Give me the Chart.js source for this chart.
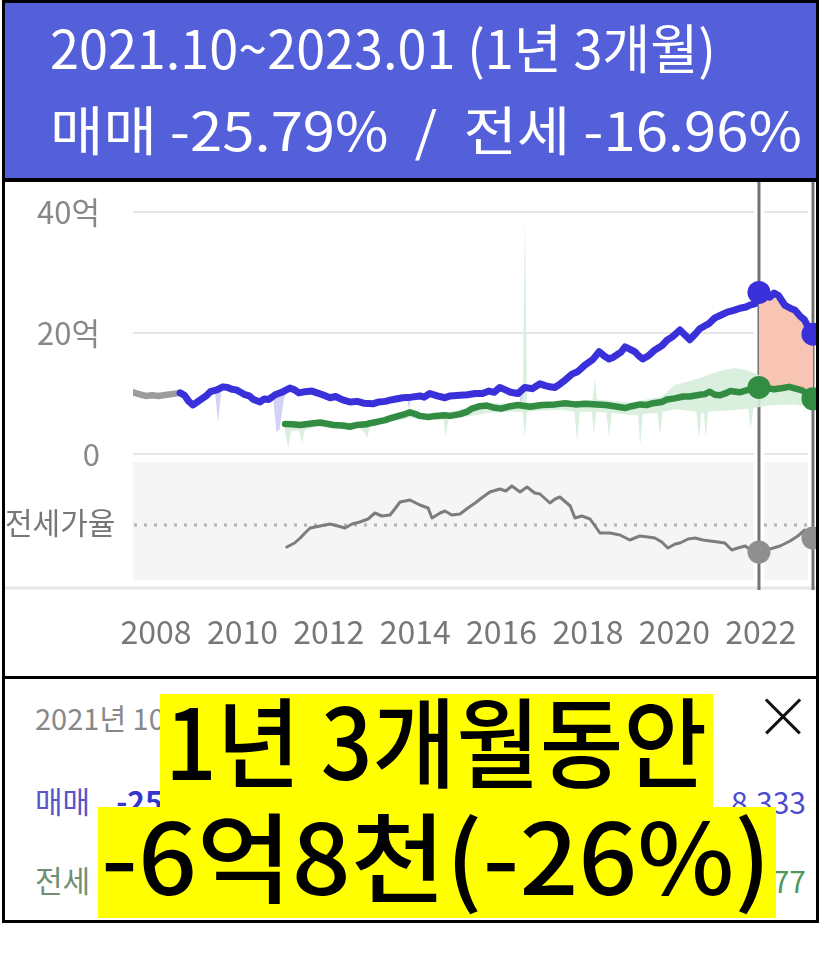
<!DOCTYPE html>
<html><head><meta charset="utf-8">
<script src="https://cdn.jsdelivr.net/npm/chart.js@4"></script>
<style>
html,body{margin:0;padding:0;background:#fff;width:827px;height:974px;overflow:hidden;font-family:"Noto Sans CJK KR","Noto Sans",sans-serif;}
.abs{position:absolute;}
#frame{left:2px;top:0;width:811px;height:917px;border:3px solid #000;}
#head{left:5px;top:3px;width:811px;height:175px;background:rgb(84,96,218);}
.div{left:2px;width:817px;background:#000;}
.hl{color:#fff;font-size:53px;line-height:1;white-space:nowrap;transform-origin:0 50%;display:inline-block;}
.fit{white-space:nowrap;display:inline-block;transform-origin:0 50%;line-height:1;}
#cv{left:5px;top:182px;}
.yb{background:#ffff00;}
.big{font-size:98px;font-weight:500;color:#000;}
</style></head><body>
<div id="frame" class="abs"></div>
<div id="head" class="abs"></div>
<div class="abs hl fit" id="h1" style="left:50px;top:20px;">2021.10~2023.01 (1년 3개월)</div>
<div class="abs hl fit" id="h2" style="left:50px;top:102px;">매매 -25.79% &nbsp;/&nbsp; 전세 -16.96%</div>
<div class="abs div" style="top:178px;height:4px;"></div>
<canvas id="cv" class="abs" width="811" height="494"></canvas>
<div class="abs fit" style="left:5px;top:506px;font-size:30px;color:#777;">전세가율</div>
<div class="abs div" style="top:676px;height:3px;"></div>

<div class="abs fit" style="left:35px;top:703px;font-size:29px;color:#888;">2021년 10월 ~ 2023년 01월</div>
<div class="abs fit" style="left:35px;top:785px;font-size:30px;color:#5656c8;">매매<span style="margin-left:26px;color:#3535d0;font-weight:700;">-25.79%</span></div>
<div class="abs fit" id="r1" style="top:786px;font-size:30px;color:#4b4bd0;">19억<span style="margin-left:22px;">8,333</span></div>
<div class="abs fit" style="left:35px;top:864px;font-size:30px;color:#6f8f73;">전세<span style="margin-left:26px;color:#4a9a55;font-weight:700;">-16.96%</span></div>
<div class="abs fit" id="r2" style="top:865px;font-size:30px;color:#4f9a5a;">9억 1,377</div>
<div class="abs" style="left:759px;top:715px;width:48px;height:2.5px;background:#111;transform:rotate(45deg);"></div>
<div class="abs" style="left:759px;top:715px;width:48px;height:2.5px;background:#111;transform:rotate(-45deg);"></div>

<div class="abs yb" style="left:160px;top:694px;width:553px;height:113px;"></div>
<div class="abs yb" style="left:98px;top:807px;width:678px;height:111px;"></div>
<div class="abs fit big" id="b1" style="left:165px;top:688px;">1년 3개월동안</div>
<div class="abs fit big" id="b2" style="left:101px;top:803px;">-6억8천(-26%)</div>

<script>
// ---------- data ----------
const YEAR_TICKS = [2008, 2010, 2012, 2014, 2016, 2018, 2020, 2022];
const PRICE_TICKS = [0, 20, 40];
const PERIOD = [2021.75, 2023.0];   // 2021.10 ~ 2023.01
const RATIO_REF = 55;

const EARLY_SALE = [[2007.26,10.2],[2007.4,9.9],[2007.55,9.6],[2007.7,9.7],[2007.85,9.6],[2008.0,9.75],[2008.15,9.9],[2008.35,10.1]];

const SALE = [[2008.35,10.1],[2008.45,9.7],[2008.55,8.7],[2008.65,8.1],[2008.75,8.6],[2008.85,9.1],[2008.95,9.6],[2009.05,10.3],[2009.2,10.6],[2009.34,11.1],[2009.45,11.0],[2009.55,10.7],[2009.65,10.6],[2009.75,10.2],[2009.85,9.8],[2009.95,9.6],[2010.05,9.0],[2010.2,8.6],[2010.3,9.1],[2010.4,9.0],[2010.55,9.8],[2010.7,10.2],[2010.89,10.9],[2011.0,10.6],[2011.1,10.1],[2011.24,10.3],[2011.4,10.4],[2011.52,10.1],[2011.65,9.8],[2011.82,9.3],[2011.95,9.5],[2012.1,9.0],[2012.28,8.6],[2012.45,8.7],[2012.6,8.4],[2012.81,8.3],[2012.95,8.6],[2013.1,8.7],[2013.21,8.9],[2013.35,9.1],[2013.5,9.3],[2013.7,9.4],[2013.9,9.6],[2014.0,9.4],[2014.13,10.0],[2014.3,9.6],[2014.48,9.3],[2014.6,9.6],[2014.83,9.7],[2015.0,9.8],[2015.18,10.0],[2015.35,10.0],[2015.5,10.4],[2015.62,10.2],[2015.75,11.0],[2015.88,10.6],[2016.0,10.2],[2016.17,10.0],[2016.33,11.0],[2016.5,10.8],[2016.68,11.6],[2016.8,11.3],[2016.91,11.1],[2017.03,11.0],[2017.15,11.6],[2017.26,12.2],[2017.42,13.2],[2017.55,13.6],[2017.72,14.7],[2017.9,15.6],[2018.05,16.9],[2018.17,16.2],[2018.28,15.7],[2018.38,16.0],[2018.46,16.4],[2018.55,16.8],[2018.65,17.7],[2018.77,17.3],[2018.88,16.9],[2018.97,16.2],[2019.06,15.7],[2019.2,16.3],[2019.34,17.2],[2019.5,17.9],[2019.62,18.8],[2019.75,19.4],[2019.92,20.5],[2020.05,19.6],[2020.15,18.9],[2020.27,19.8],[2020.38,20.7],[2020.5,21.2],[2020.6,21.6],[2020.73,22.5],[2020.85,22.9],[2021.03,23.5],[2021.15,23.7],[2021.31,24.1],[2021.45,24.3],[2021.54,24.6],[2021.65,24.8],[2021.75,26.7],[2021.88,26.3],[2022.0,25.9],[2022.1,26.6],[2022.2,26.2],[2022.35,24.6],[2022.5,24.0],[2022.58,23.8],[2022.7,22.8],[2022.8,22.2],[2022.9,20.8],[2023.0,19.8]];

// lower edge of the sale range (spikes only, null = gap)
const SALE_LOW = [[2009.15,10.6],[2009.23,5.3],[2009.31,10.9],[2009.32,null],[2010.5,9.5],[2010.58,3.6],[2010.65,4.0],[2010.75,9.0],[2010.85,10.7],[2010.86,null],[2013.6,9.3],[2013.65,7.4],[2013.7,9.4],[2013.71,null],[2016.2,10.1],[2016.25,7.5],[2016.3,10.7]];

const JEONSE = [[2010.78,4.96],[2010.95,4.9],[2011.13,4.8],[2011.3,4.95],[2011.59,5.2],[2011.75,5.0],[2011.9,4.8],[2012.1,4.7],[2012.28,4.5],[2012.45,4.8],[2012.65,4.9],[2012.75,5.1],[2012.9,5.3],[2013.1,5.6],[2013.21,5.9],[2013.45,6.4],[2013.56,6.6],[2013.67,6.9],[2013.8,6.6],[2013.9,6.3],[2014.1,6.1],[2014.25,6.3],[2014.48,6.4],[2014.6,6.3],[2014.83,6.6],[2015.0,7.0],[2015.1,7.5],[2015.29,7.9],[2015.45,8.0],[2015.6,7.7],[2015.78,7.5],[2016.0,7.9],[2016.17,8.1],[2016.45,7.8],[2016.73,8.1],[2017.03,8.2],[2017.26,8.4],[2017.5,8.2],[2017.72,8.3],[2018.0,8.2],[2018.2,8.1],[2018.4,7.9],[2018.65,7.6],[2018.8,7.9],[2019.0,8.2],[2019.15,8.1],[2019.3,8.4],[2019.5,8.6],[2019.62,9.0],[2019.8,9.2],[2020.0,9.5],[2020.15,9.5],[2020.38,9.8],[2020.5,9.9],[2020.61,10.3],[2020.73,9.8],[2020.85,9.7],[2021.0,10.1],[2021.08,10.4],[2021.3,10.2],[2021.5,10.6],[2021.75,11.0],[2021.9,10.9],[2022.1,10.7],[2022.3,10.9],[2022.45,11.1],[2022.6,10.8],[2022.75,10.5],[2022.9,9.8],[2023.0,9.13]];

const JEONSE_LOW = [[2010.78,3.5],[2010.85,1.0],[2010.92,3.8],[2011.1,3.9],[2011.17,1.8],[2011.24,4.0],[2011.5,4.5],[2012.0,4.2],[2012.5,4.3],[2012.62,3.6],[2012.68,2.6],[2012.74,4.3],[2013.2,5.3],[2013.7,6.0],[2014.0,5.6],[2014.45,5.6],[2014.5,2.8],[2014.56,5.7],[2015.0,6.2],[2015.5,6.8],[2016.0,7.0],[2016.28,7.0],[2016.33,2.8],[2016.38,7.0],[2016.8,7.2],[2017.2,7.3],[2017.48,7.0],[2017.54,2.0],[2017.6,7.0],[2017.88,7.0],[2017.93,3.1],[2017.98,7.0],[2018.22,6.8],[2018.28,2.6],[2018.34,6.8],[2018.7,6.5],[2018.95,6.5],[2019.0,1.5],[2019.06,6.6],[2019.4,6.8],[2019.46,3.1],[2019.52,7.0],[2019.8,7.4],[2020.3,7.0],[2020.36,2.6],[2020.42,6.8],[2020.47,6.8],[2020.52,2.8],[2020.57,7.0],[2021.0,7.2],[2021.5,7.5],[2021.56,4.3],[2021.62,7.6],[2022.0,8.0],[2022.5,8.2],[2023.0,7.8]];

const JEONSE_HIGH = [[2010.78,5.2],[2011.5,5.4],[2012.5,5.2],[2013.5,6.9],[2014.5,6.7],[2015.3,8.3],[2016.28,8.4],[2016.33,38.8],[2016.38,8.5],[2017.0,8.6],[2017.7,8.8],[2017.9,9.0],[2017.95,12.4],[2018.0,9.0],[2018.8,8.5],[2019.5,9.5],[2019.8,11.4],[2020.1,12.0],[2020.4,12.6],[2020.6,13.2],[2020.9,13.8],[2021.2,14.2],[2021.5,13.8],[2021.75,13.0],[2022.3,12.0],[2023.0,10.0]];

const RATIO = [[2010.82,44.0],[2011.0,46.0],[2011.13,48.5],[2011.24,51.0],[2011.36,53.5],[2011.59,54.5],[2011.82,55.5],[2012.0,54.5],[2012.17,53.5],[2012.33,55.5],[2012.51,56.5],[2012.7,58.0],[2012.86,61.0],[2013.02,59.5],[2013.21,60.0],[2013.32,63.0],[2013.44,66.5],[2013.67,67.5],[2013.9,65.0],[2014.09,63.5],[2014.18,58.5],[2014.37,61.0],[2014.48,62.0],[2014.64,60.0],[2014.83,60.5],[2015.01,63.5],[2015.18,66.0],[2015.36,69.0],[2015.52,71.5],[2015.75,73.0],[2015.89,72.0],[2016.03,74.5],[2016.22,71.5],[2016.38,74.0],[2016.56,71.0],[2016.68,70.5],[2016.91,66.0],[2017.03,68.0],[2017.14,69.0],[2017.38,64.5],[2017.49,58.5],[2017.65,59.5],[2017.84,58.0],[2018.07,51.0],[2018.3,51.0],[2018.53,50.0],[2018.76,47.5],[2018.99,49.5],[2019.18,49.0],[2019.34,48.5],[2019.5,46.5],[2019.64,43.5],[2019.81,45.5],[2019.92,46.0],[2020.11,48.0],[2020.27,48.5],[2020.45,47.5],[2020.62,47.0],[2020.8,46.5],[2020.96,46.0],[2021.12,42.5],[2021.26,43.5],[2021.43,44.5],[2021.59,42.0],[2021.75,41.5],[2022.0,43.0],[2022.24,44.5],[2022.47,47.0],[2022.65,49.5],[2022.81,52.5],[2022.91,51.5],[2023.0,48.5]];

// ---------- helpers ----------
const pts = a => a.map(([x, y]) => ({x, y}));
const at = (a, yr) => a.find(p => Math.abs(p[0] - yr) < 1e-6)[1];
const marks = a => PERIOD.map(yr => ({x: yr, y: at(a, yr)}));

const BLUE = 'rgb(58,48,218)', GREEN = 'rgb(50,140,65)';
Chart.defaults.font.family = '"Noto Sans CJK KR","Noto Sans",sans-serif';

const deco = {
  id: 'deco',
  beforeDatasetsDraw(chart) {
    const {ctx, chartArea: a, scales: {x, y, y2}} = chart;
    ctx.save();
    const bt = y.getPixelForValue(0) + 8, bb = a.bottom - 8;
    ctx.fillStyle = '#f5f5f5';
    ctx.fillRect(a.left, bt, a.right - a.left, bb - bt);
    const ry = y2.getPixelForValue(RATIO_REF);
    ctx.strokeStyle = '#b4b4b4'; ctx.lineWidth = 3; ctx.setLineDash([3, 7]);
    ctx.beginPath(); ctx.moveTo(a.left + 1, ry); ctx.lineTo(a.right, ry); ctx.stroke();
    ctx.setLineDash([]);
    ctx.strokeStyle = '#e6e6e6'; ctx.lineWidth = 3;
    ctx.beginPath(); ctx.moveTo(0, a.bottom); ctx.lineTo(a.right, a.bottom); ctx.stroke();
    PERIOD.forEach(yr => {
      const px = x.getPixelForValue(yr);
      ctx.strokeStyle = '#fff'; ctx.lineWidth = 10;
      ctx.beginPath(); ctx.moveTo(px, 0); ctx.lineTo(px, a.bottom - 2); ctx.stroke();
      ctx.strokeStyle = '#737373'; ctx.lineWidth = 3;
      ctx.beginPath(); ctx.moveTo(px, 0); ctx.lineTo(px, a.bottom + 2); ctx.stroke();
    });
    ctx.restore();
  }
};

const lineDs = (data, color, width, order, axis) => ({
  data: pts(data), borderColor: color, borderWidth: width, pointRadius: 0,
  tension: 0, fill: false, order, yAxisID: axis || 'y', spanGaps: false,
  borderJoinStyle: 'round', borderCapStyle: 'round'
});
const markDs = (data, color, axis) => ({
  data, showLine: false, pointRadius: 11.5, pointBackgroundColor: color,
  pointBorderWidth: 0, order: 0, yAxisID: axis || 'y'
});

const datasets = [
  markDs(marks(SALE), BLUE),                         // 0
  markDs(marks(JEONSE), GREEN),                      // 1
  markDs(marks(RATIO), '#8f8f8f', 'y2'),             // 2
  lineDs(SALE, BLUE, 7, 1),                          // 3
  lineDs(JEONSE, GREEN, 6.5, 2),                     // 4
  lineDs(EARLY_SALE, '#9c9c9c', 6.5, 3),             // 5
  lineDs(RATIO, '#7d7d7d', 3, 4, 'y2'),              // 6
  Object.assign(lineDs(SALE.filter(p => p[0] >= PERIOD[0]), 'rgba(0,0,0,0)', 0, 5),
    {fill: {target: 4}, backgroundColor: '#f8c4b4'}), // 7 pink gap
  Object.assign(lineDs(SALE_LOW, 'rgba(0,0,0,0)', 0, 6),
    {fill: {target: 3}, backgroundColor: 'rgba(205,205,245,0.9)'}), // 8
  lineDs(JEONSE_LOW, 'rgba(0,0,0,0)', 0, 8),         // 9
  Object.assign(lineDs(JEONSE_HIGH, 'rgba(0,0,0,0)', 0, 7),
    {fill: {target: 9}, backgroundColor: 'rgba(214,237,218,0.9)'}) // 10
];

const noPadX = s => { s.height = 88; s.paddingLeft = 0; s.paddingRight = 0; };
const noPadY = s => { s.width = 128; s.paddingTop = 0; s.paddingBottom = 0; };

new Chart(document.getElementById('cv'), {
  type: 'line',
  data: {datasets},
  plugins: [deco],
  options: {
    responsive: false, animation: false, devicePixelRatio: 1, events: [],
    layout: {autoPadding: false, padding: {top: 6, right: 0, left: 0, bottom: 0}},
    plugins: {legend: {display: false}, tooltip: {enabled: false}},
    scales: {
      x: {
        type: 'linear', position: 'bottom', min: 2007.259, max: 2023.07,
        afterBuildTicks: s => { s.ticks = YEAR_TICKS.map(v => ({value: v})); },
        afterFit: noPadX,
        grid: {display: false}, border: {display: false},
        ticks: {callback: v => String(v), font: {size: 32}, color: '#777', padding: 17,
                labelOffset: -9, maxRotation: 0, autoSkip: false}
      },
      y: {
        position: 'left', min: -22.15, max: 43.97,
        afterBuildTicks: s => { s.ticks = PRICE_TICKS.map(v => ({value: v})); },
        afterFit: noPadY,
        grid: {color: '#e6e6e6', lineWidth: 2, drawTicks: false}, border: {display: false},
        ticks: {callback: v => v === 0 ? '0' : v + '억', font: {size: 31}, color: '#888', padding: 33}
      },
      y2: {display: false, min: 23.5, max: 223.5, afterFit: s => { s.paddingTop = 0; s.paddingBottom = 0; }}
    }
  }
});

// ---------- text fitting ----------
function fit(id, w) { const el = document.getElementById(id); const cw = el.getBoundingClientRect().width; el.style.transform = 'scaleX(' + (w / cw) + ')'; }
fit('h1', 666); fit('h2', 752); fit('b1', 542); fit('b2', 670);
function right(id, r) { const el = document.getElementById(id); el.style.left = (r - el.getBoundingClientRect().width) + 'px'; }
right('r1', 806); right('r2', 806);
</script>
</body></html>
